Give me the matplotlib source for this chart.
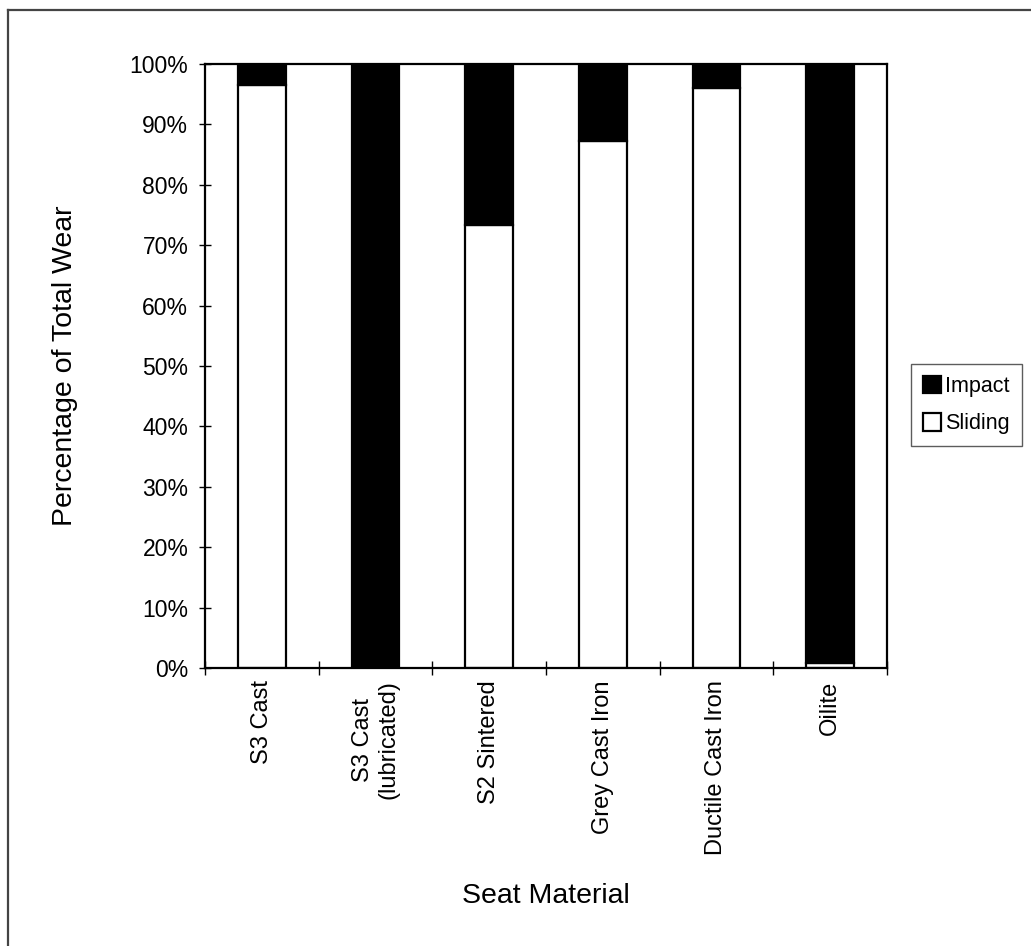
import numpy as np
import matplotlib
matplotlib.use("Agg")
import matplotlib.pyplot as plt
from matplotlib.lines import Line2D
from matplotlib.ticker import FixedLocator, PercentFormatter

plt.rcParams['font.family'] = ['Liberation Sans', 'DejaVu Sans']

materials = ['S3 Cast', 'S3 Cast\n(lubricated)', 'S2 Sintered',
             'Grey Cast Iron', 'Ductile Cast Iron', 'Oilite']
sliding = [96.5, 0.0, 73.3, 87.3, 96.0, 0.8]
impact = [100 - s for s in sliding]

fig = plt.figure(figsize=(10.31, 9.46), dpi=100)
ax = fig.add_axes([0.1988, 0.2939, 0.6615, 0.6384])

x = np.arange(len(materials))
ax.bar(x, sliding, width=0.42, color='white', edgecolor='black', linewidth=1.6,
       label='Sliding', zorder=2)
ax.bar(x, impact, width=0.42, bottom=sliding, color='black', edgecolor='black',
       linewidth=1.6, label='Impact', zorder=2)

ax.set_xlim(-0.5, len(materials) - 0.5)
ax.set_ylim(0, 100)
ax.yaxis.set_major_locator(FixedLocator(np.arange(0, 101, 10)))
ax.yaxis.set_major_formatter(PercentFormatter(decimals=0))
ax.set_xticks(x)
ax.set_xticklabels(materials, rotation=90, va='top', ha='center')
ax.xaxis.set_minor_locator(FixedLocator(np.arange(-0.5, len(materials), 1)))

ax.tick_params(axis='y', direction='inout', length=8, width=1, pad=8,
               labelsize=16.5)
ax.tick_params(axis='x', which='major', length=0, pad=9, labelsize=17)
ax.tick_params(axis='x', which='minor', direction='inout', length=10, width=1)
for s in ax.spines.values():
    s.set_linewidth(1.6)

ax.set_ylabel('Percentage of Total Wear', fontsize=20.5, labelpad=37)
ax.set_xlabel('Seat Material', fontsize=20.5, labelpad=20)

handles, labels = ax.get_legend_handles_labels()
leg = ax.legend(handles[::-1], labels[::-1], loc='center left',
                bbox_to_anchor=(1.035, 0.435), borderaxespad=0, fontsize=15.5,
                frameon=True, fancybox=False, edgecolor='#333333',
                handlelength=0.85, handleheight=0.85, handletextpad=0.2,
                borderpad=0.55, labelspacing=0.75)
leg.get_frame().set_linewidth(1.0)

# outer chart frame (left and top edges visible)
fig.add_artist(Line2D([0.0078, 0.0078], [0, 0.9894], color='#444444', lw=1.6))
fig.add_artist(Line2D([0.0078, 1.0], [0.9894, 0.9894], color='#444444', lw=1.6))

fig.savefig('out.png', dpi=100, facecolor='white')
